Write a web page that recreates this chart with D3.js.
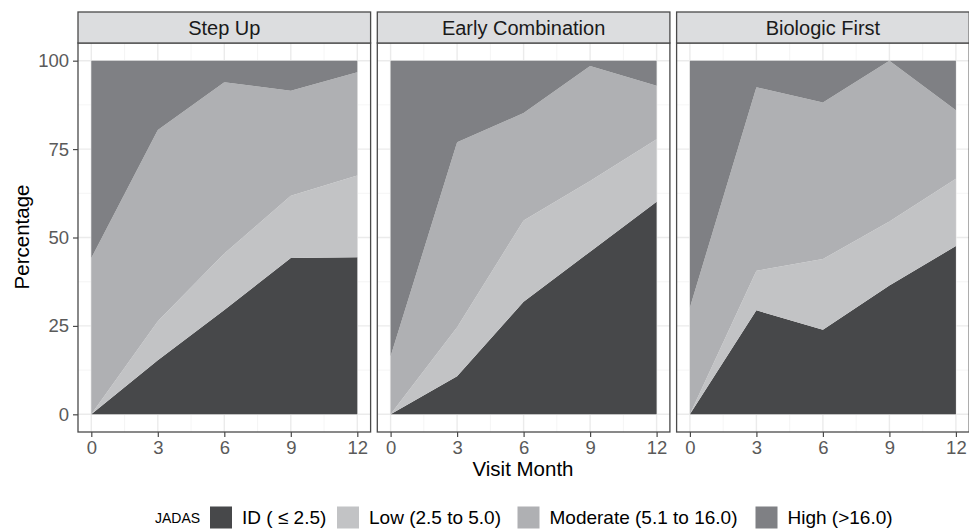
<!DOCTYPE html>
<html><head><meta charset="utf-8">
<script src="https://cdn.jsdelivr.net/npm/d3@7"></script>
<style>body{margin:0;background:#fff}svg{display:block;font-family:"Liberation Sans",Arial,Helvetica,sans-serif}</style>
</head><body>
<svg id="c" width="969" height="529"></svg>
<script>
const months = [0, 3, 6, 9, 12];
const groups = ["Step Up", "Early Combination", "Biologic First"];
const levels = ["ID ( \u2264 2.5)", "Low (2.5 to 5.0)", "Moderate (5.1 to 16.0)", "High (>16.0)"];
const levelKeys = ["ID", "Low", "Moderate", "High"];
const colors = ["#47484a", "#c2c3c5", "#afb0b3", "#7f8084"];
const yTicks = [0, 25, 50, 75, 100];
const xTicks = [0, 3, 6, 9, 12];

// percentages per level (rows: months)
const stepUpID = [0, 15.3, 29.5, 44.2, 44.4];
const stepUpLow = [0, 11.0, 16.0, 17.6, 23.1];
const stepUpModerate = [44.2, 54.1, 48.4, 29.7, 29.2];
const stepUpHigh = [55.8, 19.6, 6.1, 8.5, 3.3];

const earlyID = [0, 10.8, 31.8, 46.0, 60.1];
const earlyLow = [0, 13.8, 23.0, 20.0, 17.7];
const earlyModerate = [16.4, 52.3, 30.4, 32.5, 15.1];
const earlyHigh = [83.6, 23.1, 14.8, 1.5, 7.1];

const bioID = [0, 29.4, 23.9, 36.4, 47.6];
const bioLow = [0, 11.2, 20.0, 18.1, 19.0];
const bioModerate = [30.2, 51.9, 44.3, 45.5, 19.4];
const bioHigh = [69.8, 7.5, 11.8, 0, 14.0];

const seriesByGroup = [
  [stepUpID, stepUpLow, stepUpModerate, stepUpHigh],
  [earlyID, earlyLow, earlyModerate, earlyHigh],
  [bioID, bioLow, bioModerate, bioHigh]
];

const svg = d3.select("#c");
const panelLeft = 78, panelW = 292.6, panelGap = 6.7;
const stripTop = 12, panelTop = 43, panelBottom = 432;
const panelH = panelBottom - panelTop;

const y = d3.scaleLinear().domain([-5, 105]).range([panelBottom, panelTop]);

groups.forEach((g, gi) => {
  const x0 = panelLeft + gi * (panelW + panelGap);
  const x = d3.scaleLinear().domain([-0.6, 12.6]).range([x0, x0 + panelW]);
  const gp = svg.append("g");

  gp.append("rect").attr("x", x0).attr("y", panelTop).attr("width", panelW).attr("height", panelH).attr("fill", "#fff");
  [1.5, 4.5, 7.5, 10.5].forEach(v => gp.append("line").attr("x1", x(v)).attr("x2", x(v)).attr("y1", panelTop).attr("y2", panelBottom).attr("stroke", "#f2f2f2").attr("stroke-width", 0.8));
  [12.5, 37.5, 62.5, 87.5].forEach(v => gp.append("line").attr("y1", y(v)).attr("y2", y(v)).attr("x1", x0).attr("x2", x0 + panelW).attr("stroke", "#f2f2f2").attr("stroke-width", 0.8));
  xTicks.forEach(v => gp.append("line").attr("x1", x(v)).attr("x2", x(v)).attr("y1", panelTop).attr("y2", panelBottom).attr("stroke", "#ebebeb").attr("stroke-width", 1.4));
  yTicks.forEach(v => gp.append("line").attr("y1", y(v)).attr("y2", y(v)).attr("x1", x0).attr("x2", x0 + panelW).attr("stroke", "#ebebeb").attr("stroke-width", 1.4));

  const rows = months.map((m, i) => {
    const r = { month: m };
    levelKeys.forEach((k, li) => r[k] = seriesByGroup[gi][li][i]);
    return r;
  });
  const stack = d3.stack().keys(levelKeys)(rows);
  const area = d3.area().x(d => x(d.data.month)).y0(d => y(d[0])).y1(d => y(d[1]));
  stack.forEach((s, si) => {
    gp.append("path").attr("d", area(s)).attr("fill", colors[si]);
  });

  gp.append("rect").attr("x", x0).attr("y", panelTop).attr("width", panelW).attr("height", panelH)
    .attr("fill", "none").attr("stroke", "#4a4a4a").attr("stroke-width", 1.3);
  gp.append("rect").attr("x", x0).attr("y", stripTop).attr("width", panelW).attr("height", panelTop - stripTop)
    .attr("fill", "#dcdddf").attr("stroke", "#4a4a4a").attr("stroke-width", 1.3);
  gp.append("text").attr("x", x0 + panelW / 2).attr("y", 34.5).attr("text-anchor", "middle")
    .attr("font-size", 20).attr("fill", "#1a1a1a").text(g);

  const xa = gp.append("g").attr("transform", `translate(0,${panelBottom})`)
    .call(d3.axisBottom(x).tickValues(xTicks).tickSize(5).tickPadding(4).tickSizeOuter(0));
  xa.select(".domain").remove();
  xa.selectAll(".tick line").attr("stroke", "#4a4a4a").attr("stroke-width", 1.2);
  xa.selectAll(".tick text").attr("font-size", 18.5).attr("fill", "#5a5a5a").attr("font-family", null);

  if (gi === 0) {
    const ya = gp.append("g").attr("transform", `translate(${x0},0)`)
      .call(d3.axisLeft(y).tickValues(yTicks).tickSize(5).tickPadding(4).tickSizeOuter(0));
    ya.select(".domain").remove();
    ya.selectAll(".tick line").attr("stroke", "#4a4a4a").attr("stroke-width", 1.2);
    ya.selectAll(".tick text").attr("font-size", 18.5).attr("fill", "#5a5a5a").attr("font-family", null);
  }
});

svg.append("text").attr("x", 523).attr("y", 476).attr("text-anchor", "middle").attr("font-size", 20.5).attr("fill", "#000").text("Visit Month");
svg.append("text").attr("transform", "translate(29,237) rotate(-90)").attr("text-anchor", "middle").attr("font-size", 20.5).attr("fill", "#000").text("Percentage");

const legend = svg.append("g");
legend.append("text").attr("x", 155).attr("y", 523).attr("font-size", 14).attr("fill", "#000").text("JADAS");
const keyX = [210, 337, 517.5, 755.5];
levels.forEach((l, i) => {
  legend.append("rect").attr("x", keyX[i]).attr("y", 506.5).attr("width", 22).attr("height", 22).attr("fill", colors[i]);
  legend.append("text").attr("x", keyX[i] + 32).attr("y", 524).attr("font-size", 19).attr("fill", "#000").text(l);
});
</script>
</body></html>
